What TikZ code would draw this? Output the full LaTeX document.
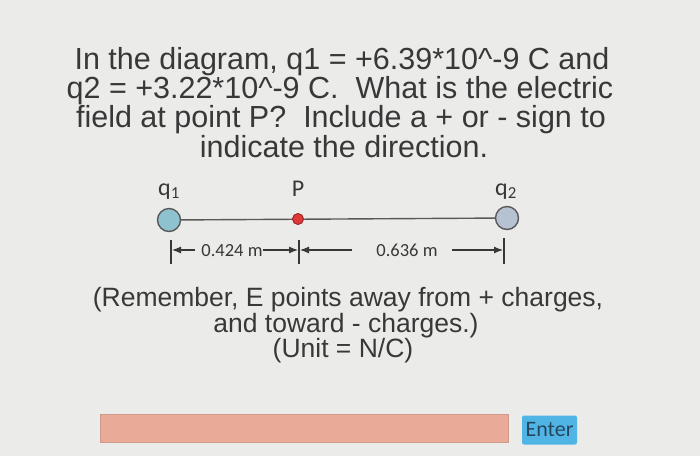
\documentclass[tikz,border=0pt]{standalone}
\usepackage{fontspec}
\setmainfont{Liberation Sans}
\newfontfamily\calib{Carlito}
\usetikzlibrary{arrows.meta}
\definecolor{bg}{HTML}{EBECEA}
\definecolor{txt}{HTML}{383838}
\definecolor{qone}{HTML}{8EC2CE}
\definecolor{qtwo}{HTML}{B6C2D2}
\definecolor{pred}{HTML}{E0393A}
\definecolor{boxfill}{HTML}{E9AA98}
\definecolor{boxline}{HTML}{CF9A8C}
\definecolor{btn}{HTML}{50B5E5}
\definecolor{btntxt}{HTML}{27465E}
\tikzset{
  title/.style={anchor=base, inner sep=0pt, text=txt, font=\fontsize{30.5}{30}\selectfont},
  note/.style={anchor=base, inner sep=0pt, text=txt, font=\fontsize{26.5}{26}\selectfont},
  qlab/.style={anchor=base, inner sep=0pt, text=txt, font=\calib\fontsize{24}{24}\selectfont},
  dimlab/.style={anchor=base, inner sep=0pt, text=txt, font=\calib\fontsize{18.5}{18}\selectfont},
  charge/.style={circle, draw=black!65, line width=1.4pt, inner sep=0pt},
  dimline/.style={draw=txt, line width=1.1pt},
  dimarrow/.style={draw=txt, line width=1.1pt, -{Latex[length=9pt,width=7pt]}},
}
\begin{document}
\begin{tikzpicture}[x=1pt,y=-1pt]
\useasboundingbox (0,0) rectangle (700,456);
\fill[bg] (0,0) rectangle (700,456);
% title
\node[title] (t1) at (342,69) {In the diagram, q1 = +6.39*10\^{}-9 C and};
\node[title] (t2) at (340,98) {q2 = +3.22*10\^{}-9 C.\ \ What is the electric};
\node[title] (t3) at (341,127) {field at point P?\ \ Include a + or - sign to};
\node[title] (t4) at (344,157) {indicate the direction.};
% labels
\node[qlab] (lq1) at (169,195) {q\textsubscript{1}};
\node[qlab] (lP) at (298,196) {P};
\node[qlab] (lq2) at (506,195) {q\textsubscript{2}};
% charges
\node[charge, fill=qone, minimum size=23pt] (q1) at (169,220) {};
\node[charge, fill=qtwo, minimum size=23pt] (q2) at (507,218) {};
\draw[black!65, line width=1.4pt] (q1) -- (q2);
\node[charge, fill=pred, draw=pred!70!black, line width=1pt, minimum size=11pt] (p) at (298,219) {};
% dimension
\coordinate (a0) at (171,240); \coordinate (a1) at (171,264);
\coordinate (b0) at (299,240); \coordinate (b1) at (299,264);
\coordinate (c0) at (504,238); \coordinate (c1) at (504,264);
\draw[dimline] (a0) -- (a1);
\draw[dimline] (b0) -- (b1);
\draw[dimline] (c0) -- (c1);
\node[dimlab] (d1) at (232,256) {0.424 m};
\node[dimlab] (d2) at (407,256) {0.636 m};
\coordinate (la) at (195,250);
\coordinate (lb) at (263,250);
\coordinate (lc) at (352,250);
\coordinate (ld) at (452,250);
\coordinate (ax) at (172,250);
\coordinate (bx1) at (298,250);
\coordinate (bx2) at (300,250);
\coordinate (cx) at (503,250);
\draw[dimarrow] (la) -- (ax);
\draw[dimarrow] (lb) -- (bx1);
\draw[dimarrow] (lc) -- (bx2);
\draw[dimarrow] (ld) -- (cx);
% notes
\node[note] (n1) at (348,306) {(Remember, E points away from + charges,};
\node[note] (n2) at (346,332) {and toward - charges.)};
\node[note] (n3) at (343,357) {(Unit = N/C)};
% input
\node[draw=boxline, fill=boxfill, line width=0.8pt, minimum width=408pt, minimum height=28pt, inner sep=0pt] (box) at (304,428) {};
\node[fill=btn, rounded corners=2pt, minimum width=55pt, minimum height=29pt, inner sep=0pt, text=btntxt, font=\calib\fontsize{22}{22}\selectfont] (enter) at (549.5,430) {Enter};
\end{tikzpicture}
\end{document}
